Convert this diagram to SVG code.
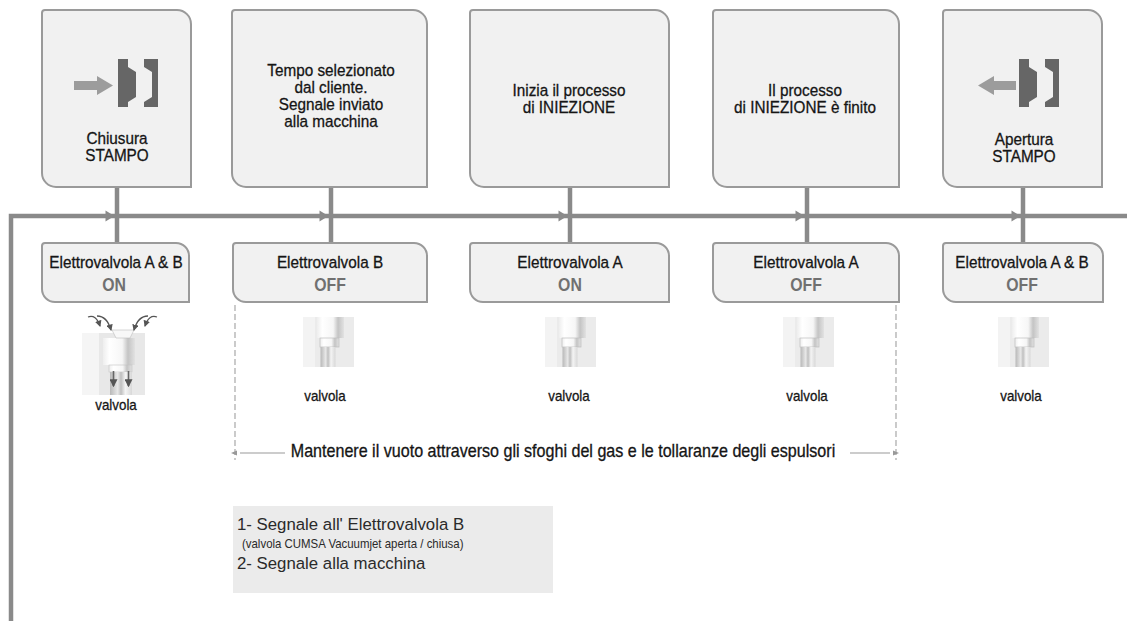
<svg xmlns="http://www.w3.org/2000/svg" xmlns:xlink="http://www.w3.org/1999/xlink" width="1127" height="621" viewBox="0 0 1127 621">
  <style>
    .box { fill: #f1f1f1; stroke: #9a9a9a; stroke-width: 2; }
    .t { font-family: "Liberation Sans", Arial, sans-serif; font-size: 17px; fill: #151515; stroke: #151515; stroke-width: 0.3; text-anchor: middle;
         transform-box: fill-box; transform-origin: center; transform: scaleX(0.9); }
    .state { font-weight: bold; font-size: 18px; fill: #707070; stroke: none; transform: scaleX(0.88); }
    .small { font-size: 14.5px; transform: scaleX(0.92); }
    .wide { font-size: 17.5px; transform: scaleX(0.92); }
    .wire { stroke: #8a8a8a; stroke-width: 4.5; fill: none; }
    .dash { stroke: #a8a8a8; stroke-width: 1.2; stroke-dasharray: 6 3; fill: none; }
    .thin { stroke: #999; stroke-width: 1; fill: none; }
    .mold { fill: #666; }
    .move { fill: #9c9c9c; }
    .legend { font-family: "Liberation Sans", Arial, sans-serif; fill: #2a2a2a; font-size: 16.8px; }
    .note { font-size: 13px; transform-box: fill-box; transform-origin: left center; transform: scaleX(0.88); }
  </style>
  <defs>
    <polygon id="ah" points="-9,-5.5 0,0 -9,5.5" fill="#8a8a8a"/>
    <polygon id="sah" points="0,-2.5 -6,0 0,2.5" fill="#999"/>
    <!-- two mould halves, origin at top-left of the fixed half -->
    <g id="mould">
      <path class="mold" d="M0,0 H10 V8 L18,13 V38 L10,43 V48 H0 Z"/>
      <path class="mold" d="M26,0 H40 V48 H26 V43 L34,38 V13 L26,8 Z"/>
    </g>
    <linearGradient id="cyl" x1="0" x2="1" y1="0" y2="0">
      <stop offset="0" stop-color="#eeeeee"/>
      <stop offset="0.2" stop-color="#ffffff"/>
      <stop offset="0.6" stop-color="#f6f6f6"/>
      <stop offset="0.78" stop-color="#c4c4c4"/>
      <stop offset="1" stop-color="#e2e2e2"/>
    </linearGradient>
    <linearGradient id="rod" x1="0" x2="1" y1="0" y2="0">
      <stop offset="0" stop-color="#b8b8b8"/>
      <stop offset="0.35" stop-color="#e8e8e8"/>
      <stop offset="0.5" stop-color="#bfbfbf"/>
      <stop offset="0.7" stop-color="#f4f4f4"/>
      <stop offset="1" stop-color="#d8d8d8"/>
    </linearGradient>
    <!-- closed valve, 51x50 -->
    <g id="valveOff">
      <rect x="0" y="0" width="51" height="50" fill="#ebebeb"/>
      <rect x="0" y="0" width="12" height="50" fill="#f3f3f3"/>
      <rect x="14" y="0" width="27" height="21" fill="url(#cyl)"/>
      <rect x="17" y="21" width="19" height="9" fill="url(#cyl)" stroke="#bdbdbd" stroke-width="0.7"/>
      <rect x="17.5" y="30" width="15" height="20" fill="url(#rod)"/>
    </g>
    <marker id="cv" viewBox="0 0 6 6" refX="5" refY="3" markerWidth="5" markerHeight="5" orient="auto">
      <path d="M0,0 L6,3 L0,6 Z" fill="#555"/>
    </marker>
  </defs>

  <!-- signal line and branches -->
  <g id="connectors">
    <path class="wire" d="M11,621 V216 H1127"/>
    <path class="wire" d="M117,187 V243"/>
    <path class="wire" d="M331,187 V243"/>
    <path class="wire" d="M570,187 V243"/>
    <path class="wire" d="M807,187 V243"/>
    <path class="wire" d="M1023,187 V243"/>
    <use xlink:href="#ah" x="114.5" y="216"/>
    <use xlink:href="#ah" x="328.5" y="216"/>
    <use xlink:href="#ah" x="567.5" y="216"/>
    <use xlink:href="#ah" x="804.5" y="216"/>
    <use xlink:href="#ah" x="1020.5" y="216"/>
  </g>

  <!-- step 1: mould closing -->
  <g id="step-close">
    <path class="box" d="M45,10 H177 A14,14 0 0 1 191,24 V187 H56 A14,14 0 0 1 42,173 V13 A3,3 0 0 1 45,10 Z"/>
    <path class="move" d="M74,81 H97 V76 L113,85.5 L97,95 V90 H74 Z"/>
    <use xlink:href="#mould" x="118" y="59"/>
    <text class="t" x="117" y="144">Chiusura</text>
    <text class="t" x="117" y="161">STAMPO</text>
  </g>
  <g id="valve-ab-on">
    <path class="box" d="M45,243 H176 A13,13 0 0 1 189,256 V302 H55 A13,13 0 0 1 42,289 V246 A3,3 0 0 1 45,243 Z"/>
    <text class="t" x="116" y="268">Elettrovalvola A &amp; B</text>
    <text class="t state" x="114" y="291">ON</text>
    <!-- open valve with air drawn in -->
    <rect x="82" y="333" width="63" height="62" fill="#f5f5f5"/>
    <rect x="99" y="333" width="46" height="62" fill="#e8e8e8"/>
    <rect x="103" y="338" width="32" height="27" fill="url(#cyl)"/>
    <polygon points="112,330 134,330 130,338 116,338" fill="#f8f8f8" stroke="#bcbcbc" stroke-width="0.6"/>
    <rect x="109" y="365" width="23" height="7" fill="url(#cyl)" stroke="#c4c4c4" stroke-width="0.6"/>
    <rect x="110" y="372" width="22" height="23" fill="url(#rod)"/>
    <path d="M113.5,371 V386" stroke="#666" stroke-width="1.6" marker-end="url(#cv)"/>
    <path d="M128.5,371 V386" stroke="#666" stroke-width="1.6" marker-end="url(#cv)"/>
    <path d="M88,317 Q96,314 100,326" stroke="#555" stroke-width="1.3" fill="none" marker-end="url(#cv)"/>
    <path d="M97,316 Q107,316 111,330" stroke="#555" stroke-width="1.3" fill="none" marker-end="url(#cv)"/>
    <path d="M157,317 Q149,314 145,326" stroke="#555" stroke-width="1.3" fill="none" marker-end="url(#cv)"/>
    <path d="M148,316 Q138,316 134,330" stroke="#555" stroke-width="1.3" fill="none" marker-end="url(#cv)"/>
    <text class="t small" x="116" y="410">valvola</text>
  </g>

  <!-- step 2: time selected -->
  <g id="step-time">
    <path class="box" d="M235,10 H413 A14,14 0 0 1 427,24 V187 H246 A14,14 0 0 1 232,173 V13 A3,3 0 0 1 235,10 Z"/>
    <text class="t" x="331" y="76">Tempo selezionato</text>
    <text class="t" x="331" y="93">dal cliente.</text>
    <text class="t" x="331" y="110">Segnale inviato</text>
    <text class="t" x="331" y="127">alla macchina</text>
  </g>
  <g id="valve-b-off">
    <path class="box" d="M236,243 H414 A13,13 0 0 1 427,256 V302 H246 A13,13 0 0 1 233,289 V246 A3,3 0 0 1 236,243 Z"/>
    <text class="t" x="330" y="268">Elettrovalvola B</text>
    <text class="t state" x="330" y="291">OFF</text>
    <use xlink:href="#valveOff" x="303" y="317"/>
    <text class="t small" x="325" y="401">valvola</text>
  </g>

  <!-- step 3: injection starts -->
  <g id="step-inject">
    <path class="box" d="M473,10 H655 A14,14 0 0 1 669,24 V187 H484 A14,14 0 0 1 470,173 V13 A3,3 0 0 1 473,10 Z"/>
    <text class="t" x="569" y="96">Inizia il processo</text>
    <text class="t" x="569" y="113">di INIEZIONE</text>
  </g>
  <g id="valve-a-on">
    <path class="box" d="M473,243 H656 A13,13 0 0 1 669,256 V302 H483 A13,13 0 0 1 470,289 V246 A3,3 0 0 1 473,243 Z"/>
    <text class="t" x="570" y="268">Elettrovalvola A</text>
    <text class="t state" x="570" y="291">ON</text>
    <use xlink:href="#valveOff" x="545" y="317"/>
    <text class="t small" x="569" y="401">valvola</text>
  </g>

  <!-- step 4: injection finished -->
  <g id="step-end">
    <path class="box" d="M716,10 H885 A14,14 0 0 1 899,24 V187 H727 A14,14 0 0 1 713,173 V13 A3,3 0 0 1 716,10 Z"/>
    <text class="t" x="805" y="96">Il processo</text>
    <text class="t" x="805" y="113">di INIEZIONE è finito</text>
  </g>
  <g id="valve-a-off">
    <path class="box" d="M716,243 H886 A13,13 0 0 1 899,256 V302 H726 A13,13 0 0 1 713,289 V246 A3,3 0 0 1 716,243 Z"/>
    <text class="t" x="806" y="268">Elettrovalvola A</text>
    <text class="t state" x="806" y="291">OFF</text>
    <use xlink:href="#valveOff" x="783" y="317"/>
    <text class="t small" x="807" y="401">valvola</text>
  </g>

  <!-- step 5: mould opening -->
  <g id="step-open">
    <path class="box" d="M946,10 H1088 A14,14 0 0 1 1102,24 V187 H957 A14,14 0 0 1 943,173 V13 A3,3 0 0 1 946,10 Z"/>
    <path class="move" d="M1016,81 H994 V76 L978,85.5 L994,95 V90 H1016 Z"/>
    <use xlink:href="#mould" x="1019" y="59"/>
    <text class="t" x="1024" y="145">Apertura</text>
    <text class="t" x="1024" y="162">STAMPO</text>
  </g>
  <g id="valve-ab-off">
    <path class="box" d="M946,243 H1090 A13,13 0 0 1 1103,256 V302 H956 A13,13 0 0 1 943,289 V246 A3,3 0 0 1 946,243 Z"/>
    <text class="t" x="1022" y="268">Elettrovalvola A &amp; B</text>
    <text class="t state" x="1022" y="291">OFF</text>
    <use xlink:href="#valveOff" x="998" y="317"/>
    <text class="t small" x="1021" y="401">valvola</text>
  </g>

  <!-- vacuum hold span -->
  <g id="vacuum-span">
    <path class="dash" d="M235,305 V460"/>
    <path class="dash" d="M896,305 V460"/>
    <path class="thin" d="M285,453 H240"/>
    <use xlink:href="#sah" x="237" y="453"/>
    <path class="thin" d="M850,453 H890"/>
    <use xlink:href="#sah" x="893" y="453" transform="rotate(180 893 453)"/>
    <text class="t wide" x="563" y="457">Mantenere il vuoto attraverso gli sfoghi del gas e le tollaranze degli espulsori</text>
  </g>

  <!-- legend -->
  <g id="legend">
    <rect x="233" y="506" width="320" height="87" fill="#ebebeb"/>
    <text class="legend" x="237" y="530">1- Segnale all' Elettrovalvola B</text>
    <text class="legend note" x="242" y="548">(valvola CUMSA Vacuumjet aperta / chiusa)</text>
    <text class="legend" x="237" y="569">2- Segnale alla macchina</text>
  </g>
</svg>
